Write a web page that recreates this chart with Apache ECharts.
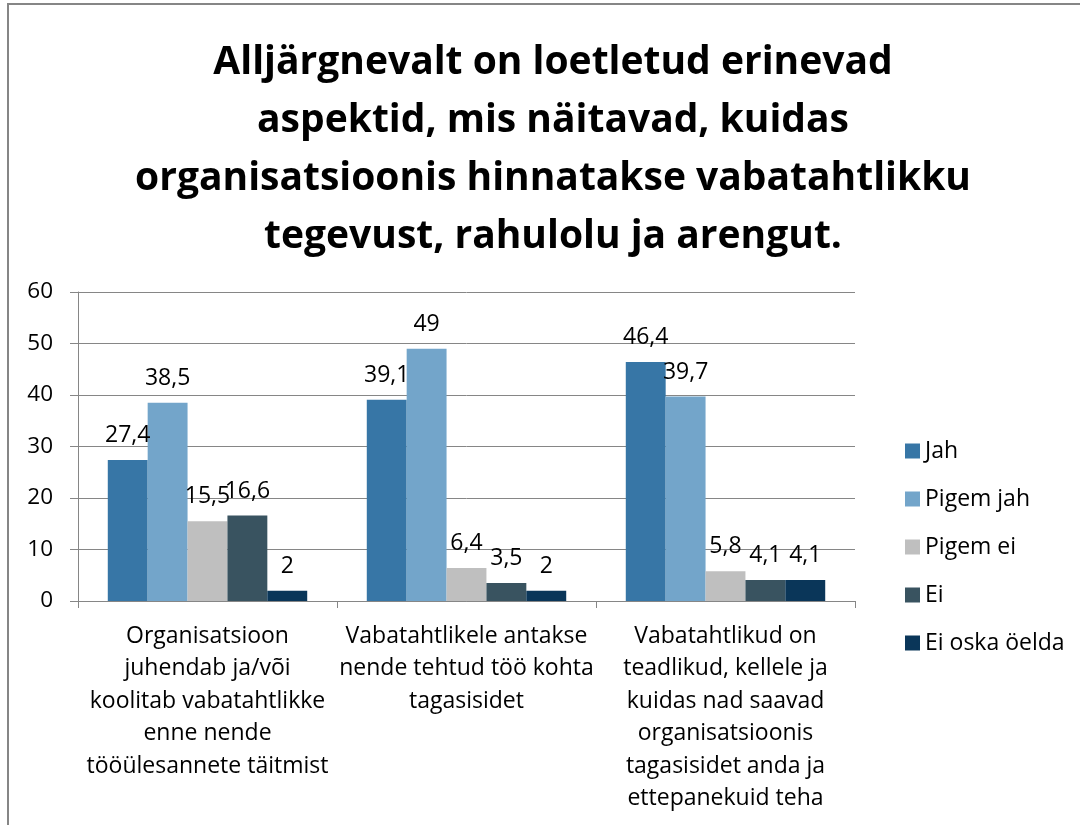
<!DOCTYPE html>
<html>
<head>
<meta charset="utf-8">
<script src="https://cdn.jsdelivr.net/npm/echarts@6/dist/echarts.min.js"></script>
<style>
  html, body { margin: 0; padding: 0; background: #fff; }
  #chart { width: 1080px; height: 825px; }
</style>
</head>
<body>
<div id="chart"></div>
<script>
// kategooriad ja andmed
let categories = [
  'Organisatsioon\njuhendab ja/või\nkoolitab vabatahtlikke\nenne nende\ntööülesannete täitmist',
  'Vabatahtlikele antakse\nnende tehtud töö kohta\ntagasisidet',
  'Vabatahtlikud on\nteadlikud, kellele ja\nkuidas nad saavad\norganisatsioonis\ntagasisidet anda ja\nettepanekuid teha'
];
let seriesNames = ['Jah', 'Pigem jah', 'Pigem ei', 'Ei', 'Ei oska öelda'];
let jah = [27.4, 39.1, 46.4];
let pigemJah = [38.5, 49, 39.7];
let pigemEi = [15.5, 6.4, 5.8];
let ei = [16.6, 3.5, 4.1];
let eiOska = [2, 2, 4.1];
let colors = ['#3776a6', '#73a5ca', '#bfbfbf', '#395360', '#0a3659'];

let titleText = 'Alljärgnevalt on loetletud erinevad\naspektid, mis näitavad, kuidas\norganisatsioonis hinnatakse vabatahtlikku\ntegevust, rahulolu ja arengut.';

let font = '"Open Sans", "Noto Sans", sans-serif';

function makeSeries(name, data, i) {
  return {
    name: name,
    type: 'bar',
    data: data,
    barGap: '0%',
    barCategoryGap: '23%',
    itemStyle: {color: colors[i]},
    label: {
      show: true,
      position: 'top',
      distance: 13,
      color: '#000',
      fontFamily: font,
      fontSize: 23,
      formatter: p => String(p.value).replace('.', ',')
    }
  }
}

let chart = echarts.init(document.getElementById('chart'));
let option = {
  animation: false,
  title: {
    text: titleText,
    left: 548,
    textAlign: 'center',
    top: 29,
    textStyle: {
      fontFamily: font,
      fontSize: 39,
      fontWeight: 'bold',
      color: '#000',
      lineHeight: 58
    }
  },
  legend: {
    orient: 'vertical',
    left: 900,
    top: 434,
    itemGap: 24,
    itemWidth: 15,
    itemHeight: 15,
    icon: 'rect',
    textStyle: {fontFamily: font, fontSize: 23, lineHeight: 24, color: '#000'},
    data: seriesNames
  },
  grid: {left: 78, right: 225, top: 292, bottom: 224, containLabel: false},
  xAxis: {
    type: 'category',
    data: categories,
    axisLine: {lineStyle: {color: '#868686'}},
    axisTick: {show: true, length: 7, lineStyle: {color: '#868686'}},
    axisLabel: {
      color: '#000',
      fontFamily: font,
      fontSize: 23,
      lineHeight: 32.5,
      margin: 19,
      interval: 0
    }
  },
  yAxis: {
    type: 'value',
    min: 0,
    max: 60,
    interval: 10,
    axisLine: {show: true, lineStyle: {color: '#868686'}},
    axisTick: {show: true, length: 8, lineStyle: {color: '#868686'}},
    splitLine: {lineStyle: {color: '#868686'}},
    axisLabel: {color: '#000', fontFamily: font, fontSize: 22.5, margin: 25}
  },
  graphic: [{
    type: 'rect',
    shape: {x: 8, y: 4, width: 1090, height: 830},
    style: {fill: 'none', stroke: '#868686', lineWidth: 2}
  }],
  series: [
    makeSeries(seriesNames[0], jah, 0),
    makeSeries(seriesNames[1], pigemJah, 1),
    makeSeries(seriesNames[2], pigemEi, 2),
    makeSeries(seriesNames[3], ei, 3),
    makeSeries(seriesNames[4], eiOska, 4)
  ]
};
chart.setOption(option);
</script>
</body>
</html>
